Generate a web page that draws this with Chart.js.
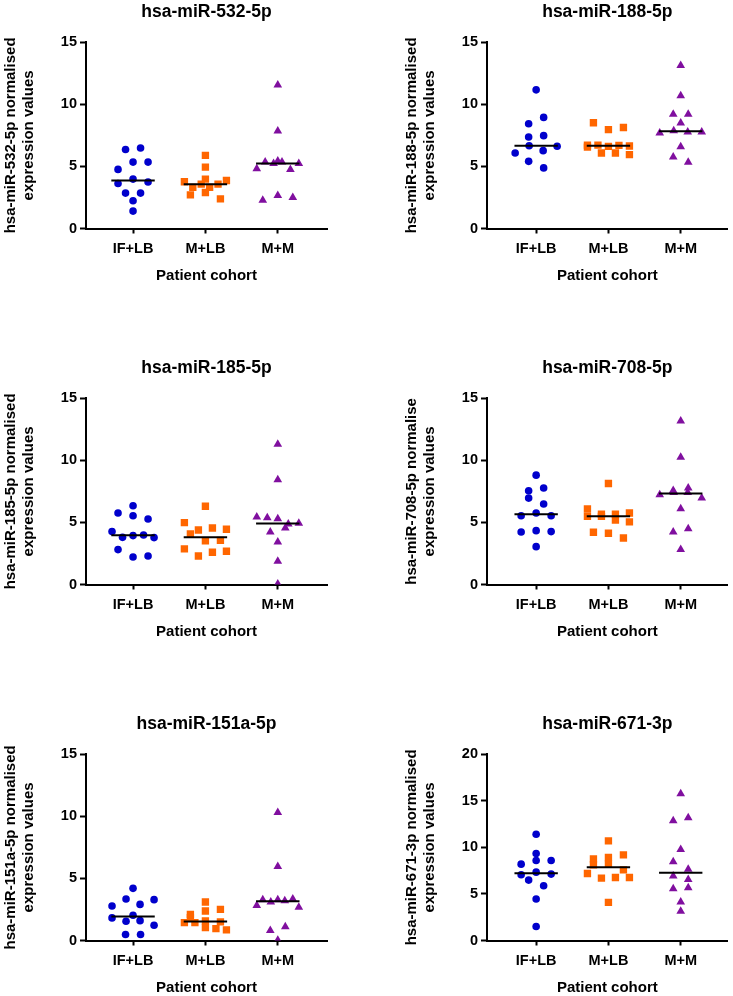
<!DOCTYPE html>
<html>
<head>
<meta charset="utf-8">
<script src="https://cdn.jsdelivr.net/npm/chart.js"></script>
<style>
    html, body { margin: 0; padding: 0; background: #fff; width: 733px; height: 996px; overflow: hidden; }
    body { position: relative; }
    canvas { position: absolute; }
</style>
</head>
<body>
<canvas id="p0"></canvas>
<canvas id="p1"></canvas>
<canvas id="p2"></canvas>
<canvas id="p3"></canvas>
<canvas id="p4"></canvas>
<canvas id="p5"></canvas>
<script>
// ---- data ----
const groups = ['IF+LB', 'M+LB', 'M+M'];
const mirNames = ['hsa-miR-532-5p', 'hsa-miR-188-5p', 'hsa-miR-185-5p', 'hsa-miR-708-5p', 'hsa-miR-151a-5p', 'hsa-miR-671-3p'];
const yAxisTitles = [
    ['hsa-miR-532-5p normalised', 'expression values'],
    ['hsa-miR-188-5p normalised', 'expression values'],
    ['hsa-miR-185-5p normalised', 'expression values'],
    ['hsa-miR-708-5p normalise', 'expression values'],
    ['hsa-miR-151a-5p normalised', 'expression values'],
    ['hsa-miR-671-3p normalised', 'expression values'],
];
const xAxisTitle = 'Patient cohort';
const yMax = [15, 15, 15, 15, 15, 20];
const yStep = 5;

// one array per cohort: IF+LB, M+LB, M+M
const mir532 = [
    [6.37, 6.48, 4.76, 5.35, 5.35, 3.63, 3.98, 3.74, 2.85, 2.85, 2.23, 1.40],
    [5.89, 4.94, 3.98, 3.77, 3.31, 3.57, 3.31, 3.57, 3.87, 2.71, 2.90, 2.39],
    [11.56, 7.85, 5.43, 4.81, 5.35, 5.24, 5.35, 4.76, 5.24, 2.28, 2.66, 2.50],
];
const mir188 = [
    [11.17, 8.44, 8.95, 7.37, 7.48, 6.08, 6.67, 6.27, 6.62, 5.41, 4.88],
    [8.52, 7.96, 8.14, 6.72, 6.72, 6.55, 6.62, 6.70, 6.65, 6.08, 6.08, 5.95],
    [13.13, 10.69, 9.21, 9.21, 8.49, 7.69, 7.88, 7.77, 7.77, 6.59, 5.76, 5.33],
];
const mir185 = [
    [6.35, 5.76, 5.54, 5.28, 4.26, 3.80, 3.94, 3.99, 3.78, 2.81, 2.22, 2.30],
    [6.30, 4.98, 4.39, 4.55, 4.45, 4.07, 3.51, 3.56, 2.87, 2.30, 2.60, 2.68],
    [11.30, 8.44, 5.44, 5.38, 5.30, 4.88, 4.93, 4.23, 4.55, 3.43, 1.88, 0.05],
];
const mir708 = [
    [8.81, 7.55, 7.77, 6.96, 6.48, 5.54, 5.76, 5.54, 4.23, 4.34, 4.26, 3.05],
    [8.14, 6.08, 5.67, 5.49, 5.67, 5.76, 5.49, 5.20, 5.04, 4.21, 4.13, 3.75],
    [13.18, 10.26, 7.23, 7.58, 7.42, 7.42, 7.77, 6.96, 6.11, 4.23, 4.50, 2.81],
];
const mir151a = [
    [4.20, 2.78, 3.34, 2.91, 3.29, 2.03, 1.82, 1.55, 1.60, 1.23, 0.48, 0.48],
    [3.10, 2.11, 2.38, 2.51, 1.44, 1.84, 1.58, 1.50, 1.44, 1.04, 0.96, 0.86],
    [10.32, 5.96, 2.81, 3.29, 3.10, 3.21, 3.29, 3.34, 2.67, 0.80, 1.10, 0.03],
];
const mir671 = [
    [11.41, 9.34, 8.20, 8.59, 8.59, 7.06, 7.34, 7.13, 6.49, 5.88, 4.46, 1.50],
    [10.70, 8.77, 8.91, 9.20, 8.13, 8.20, 7.59, 7.20, 6.70, 6.77, 6.77, 4.10],
    [15.76, 12.87, 13.19, 9.77, 8.45, 7.66, 6.92, 6.56, 5.56, 5.67, 4.14, 3.14],
];
const panelData = [mir532, mir188, mir185, mir708, mir151a, mir671];

// ---- styles / layout ----
const colours = ['#0000cc', '#ff6600', '#800f9f'];
const shapes = ['circle', 'rect', 'triangle'];
const radii = [3.8, 5.2, 5];
const FONT = "'Liberation Sans', Arial, Helvetica, sans-serif";
const PLOT_H = 186;
const PX_PER_CAT = 72.3;
const CANVAS_H = 284;
const cols = [
    { left: 0, width: 366, padRight: 39, xMin: -0.65, xMax: 2.68 },
    { left: 401, width: 332, padRight: 5.3, xMin: -0.68, xMax: 2.65 },
];
const rowTops = [0, 356, 712];

Chart.defaults.font.family = FONT;
Chart.defaults.color = '#000';

function median(arr) {
    const s = [...arr].sort((a, b) => a - b);
    const m = Math.floor(s.length / 2);
    return s.length % 2 ? s[m] : (s[m - 1] + s[m]) / 2;
}

// prism-like scatter: points close in value share a row and are spread sideways
function spread(vals, max) {
    const rowH = 7.5 * max / PLOT_H;
    const order = vals.map((v, i) => i).sort((a, b) => vals[a] - vals[b] || a - b);
    const rows = [];
    order.forEach((i) => {
        const row = rows[rows.length - 1];
        if (row && vals[i] - vals[row[0]] < rowH) row.push(i);
        else rows.push([i]);
    });
    const off = [];
    rows.forEach((row) => {
        row.sort((a, b) => a - b);
        const n = row.length;
        const step = n > 1 ? Math.min(15, 42 / (n - 1)) : 0;
        row.forEach((i, k) => { off[i] = (k - (n - 1) / 2) * step / PX_PER_CAT; });
    });
    return off;
}

function buildDatasets(p) {
    const sets = [];
    panelData[p].forEach((vals, g) => {
        const off = spread(vals, yMax[p]);
        sets.push({
            data: vals.map((v, i) => ({ x: g + off[i], y: v })),
            pointStyle: shapes[g],
            pointRadius: radii[g],
            backgroundColor: colours[g],
            borderColor: colours[g],
            borderWidth: 0,
            order: 2,
        });
        const m = median(vals);
        sets.push({
            data: [{ x: g - 0.3, y: m }, { x: g + 0.3, y: m }],
            showLine: true,
            borderColor: '#000',
            borderWidth: 2,
            pointRadius: 0,
            order: 1,
        });
    });
    return sets;
}

mirNames.forEach((name, p) => {
    const col = cols[p % 2];
    const canvas = document.getElementById('p' + p);
    canvas.width = col.width;
    canvas.height = CANVAS_H;
    canvas.style.left = col.left + 'px';
    canvas.style.top = rowTops[Math.floor(p / 2)] + 'px';

    new Chart(canvas.getContext('2d'), {
        type: 'scatter',
        data: { datasets: buildDatasets(p) },
        options: {
            responsive: false,
            animation: false,
            layout: { padding: { left: 0, right: col.padRight, top: 0, bottom: 0 } },
            plugins: {
                legend: { display: false },
                tooltip: { enabled: false },
                title: {
                    display: true,
                    text: name,
                    fullSize: false,
                    color: '#000',
                    font: { size: 17.5, weight: 'bold' },
                    padding: { top: 1.8, bottom: 19.5 },
                },
            },
            scales: {
                x: {
                    type: 'linear',
                    min: col.xMin,
                    max: col.xMax,
                    afterBuildTicks: (s) => { s.ticks = groups.map((g, i) => ({ value: i })); },
                    afterFit: (s) => { s.height = 55.5; },
                    ticks: {
                        callback: (v) => groups[v],
                        color: '#000',
                        font: { size: 14.5, weight: 'bold' },
                        padding: 6.5,
                        maxRotation: 0,
                        autoSkip: false,
                    },
                    grid: { drawOnChartArea: false, drawTicks: true, tickLength: 5, tickWidth: 2, tickColor: '#000' },
                    border: { display: true, color: '#000', width: 2 },
                    title: {
                        display: true,
                        text: xAxisTitle,
                        color: '#000',
                        font: { size: 15, weight: 'bold' },
                        padding: { top: 0, bottom: -0.5 },
                    },
                },
                y: {
                    min: 0,
                    max: yMax[p],
                    afterFit: (s) => { s.width = 86; },
                    ticks: {
                        stepSize: yStep,
                        color: '#000',
                        font: { size: 14.5, weight: 'bold' },
                        padding: 3,
                    },
                    grid: { drawOnChartArea: false, drawTicks: true, tickLength: 6, tickWidth: 2, tickColor: '#000' },
                    border: { display: true, color: '#000', width: 2 },
                    title: {
                        display: true,
                        text: yAxisTitles[p],
                        color: '#000',
                        font: { size: 15, weight: 'bold' },
                        padding: { top: 1.5, bottom: 0 },
                    },
                },
            },
        },
    });
});
</script>
</body>
</html>
